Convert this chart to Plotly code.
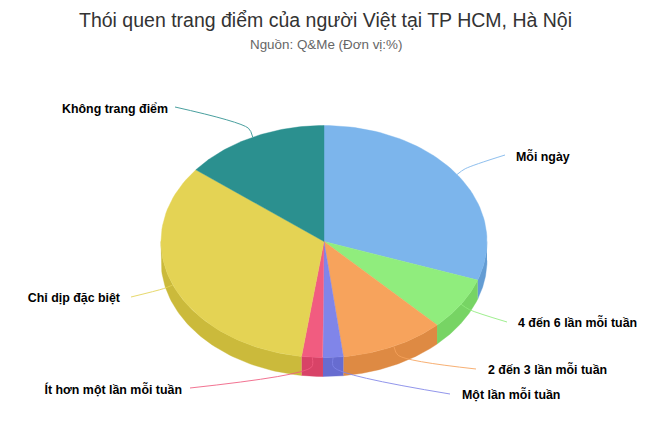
import math
import plotly.graph_objects as go

# ---- data ----
categories = ["Mỗi ngày", "4 đến 6 lần mỗi tuần", "2 đến 3 lần mỗi tuần", "Một lần mỗi tuần",
              "Ít hơn một lần mỗi tuần", "Chỉ dịp đặc biệt", "Không trang điểm"]
values = [30.4, 7.4, 10.3, 2.0, 2.1, 33.4, 14.4]

# ---- style ----
colors = ["#7cb5ec", "#90ed7d", "#f7a35c", "#8085e9", "#f15c80", "#e4d354", "#2b908f"]
side_colors = ["#639cd3", "#77d464", "#de8a43", "#676cd0", "#d84367", "#cbba3b", "#127776"]
label_anchor = [(516, 158), (518, 324), (488, 371), (462, 396), (182, 391), (120, 299), (168, 110)]
line_end = [(505, 155), (507, 322), (476, 369), (450, 394), (190, 388), (131, 297), (175, 107)]
label_side = ["middle right", "middle right", "middle right", "middle right",
              "middle left", "middle left", "middle left"]
FONT = "Liberation Sans, Arial, sans-serif"
CX, CY, RX, RY, DEPTH = 324, 241.5, 163, 116, 19
ELBOW = 10

def rim(a, dy=0):
    return CX + RX * math.sin(a), CY - RY * math.cos(a) + dy

def arc(a1, a2, dy=0, n=60):
    pts = [a1 + (a2 - a1) * i / n for i in range(n + 1)]
    return [rim(a, dy) for a in pts]

total = sum(values)
edges = [0.0]
for v in values:
    edges.append(edges[-1] + v / total * 2 * math.pi)

fig = go.Figure()

def poly(pts, color):
    fig.add_trace(go.Scatter(x=[p[0] for p in pts], y=[p[1] for p in pts], mode="lines", fill="toself",
                             fillcolor=color, line=dict(color=color, width=0.4), hoverinfo="skip", showlegend=False))

# side walls: only the front half of the rim is visible
for i in range(len(values)):
    a1 = max(edges[i], math.pi / 2)
    a2 = min(edges[i + 1], 3 * math.pi / 2)
    if a2 > a1:
        poly(arc(a1, a2) + arc(a2, a1, DEPTH), side_colors[i])

# top faces
for i in range(len(values)):
    poly([(CX, CY)] + arc(edges[i], edges[i + 1]) + [(CX, CY)], colors[i])

# connectors and labels
for i, name in enumerate(categories):
    mid = (edges[i] + edges[i + 1]) / 2
    sx, sy = rim(mid)
    ex = sx + ELBOW * math.sin(mid)
    ey = sy - ELBOW * math.cos(mid)
    lx, ly = label_anchor[i]
    end_x, end_y = line_end[i]
    fig.add_trace(go.Scatter(x=[sx, ex, end_x], y=[sy, ey, end_y], mode="lines", opacity=0.85,
                             line=dict(color=colors[i], width=1, shape="spline", smoothing=0.8),
                             hoverinfo="skip", showlegend=False))
    fig.add_trace(go.Scatter(x=[lx], y=[ly], mode="text", text=[name], textposition=label_side[i],
                             textfont=dict(family=FONT, size=12.4, color="#000000", weight="bold"),
                             hoverinfo="skip", showlegend=False))

fig.update_layout(
    width=650, height=433, margin=dict(l=0, r=0, t=0, b=0),
    paper_bgcolor="#ffffff", plot_bgcolor="#ffffff", showlegend=False,
    xaxis=dict(range=[0, 650], visible=False, fixedrange=True),
    yaxis=dict(range=[433, 0], visible=False, fixedrange=True),
    annotations=[
        dict(text="Thói quen trang điểm của người Việt tại TP HCM, Hà Nội", x=325, y=20, xref="x", yref="y",
             showarrow=False, font=dict(family=FONT, size=19.5, color="#333333")),
        dict(text="Nguồn: Q&amp;Me (Đơn vị:%)", x=326, y=44, xref="x", yref="y",
             showarrow=False, font=dict(family=FONT, size=13.4, color="#666666")),
    ],
)
fig.write_html("out.html", config={"displayModeBar": False}, post_script="document.body.style.margin='0';")
